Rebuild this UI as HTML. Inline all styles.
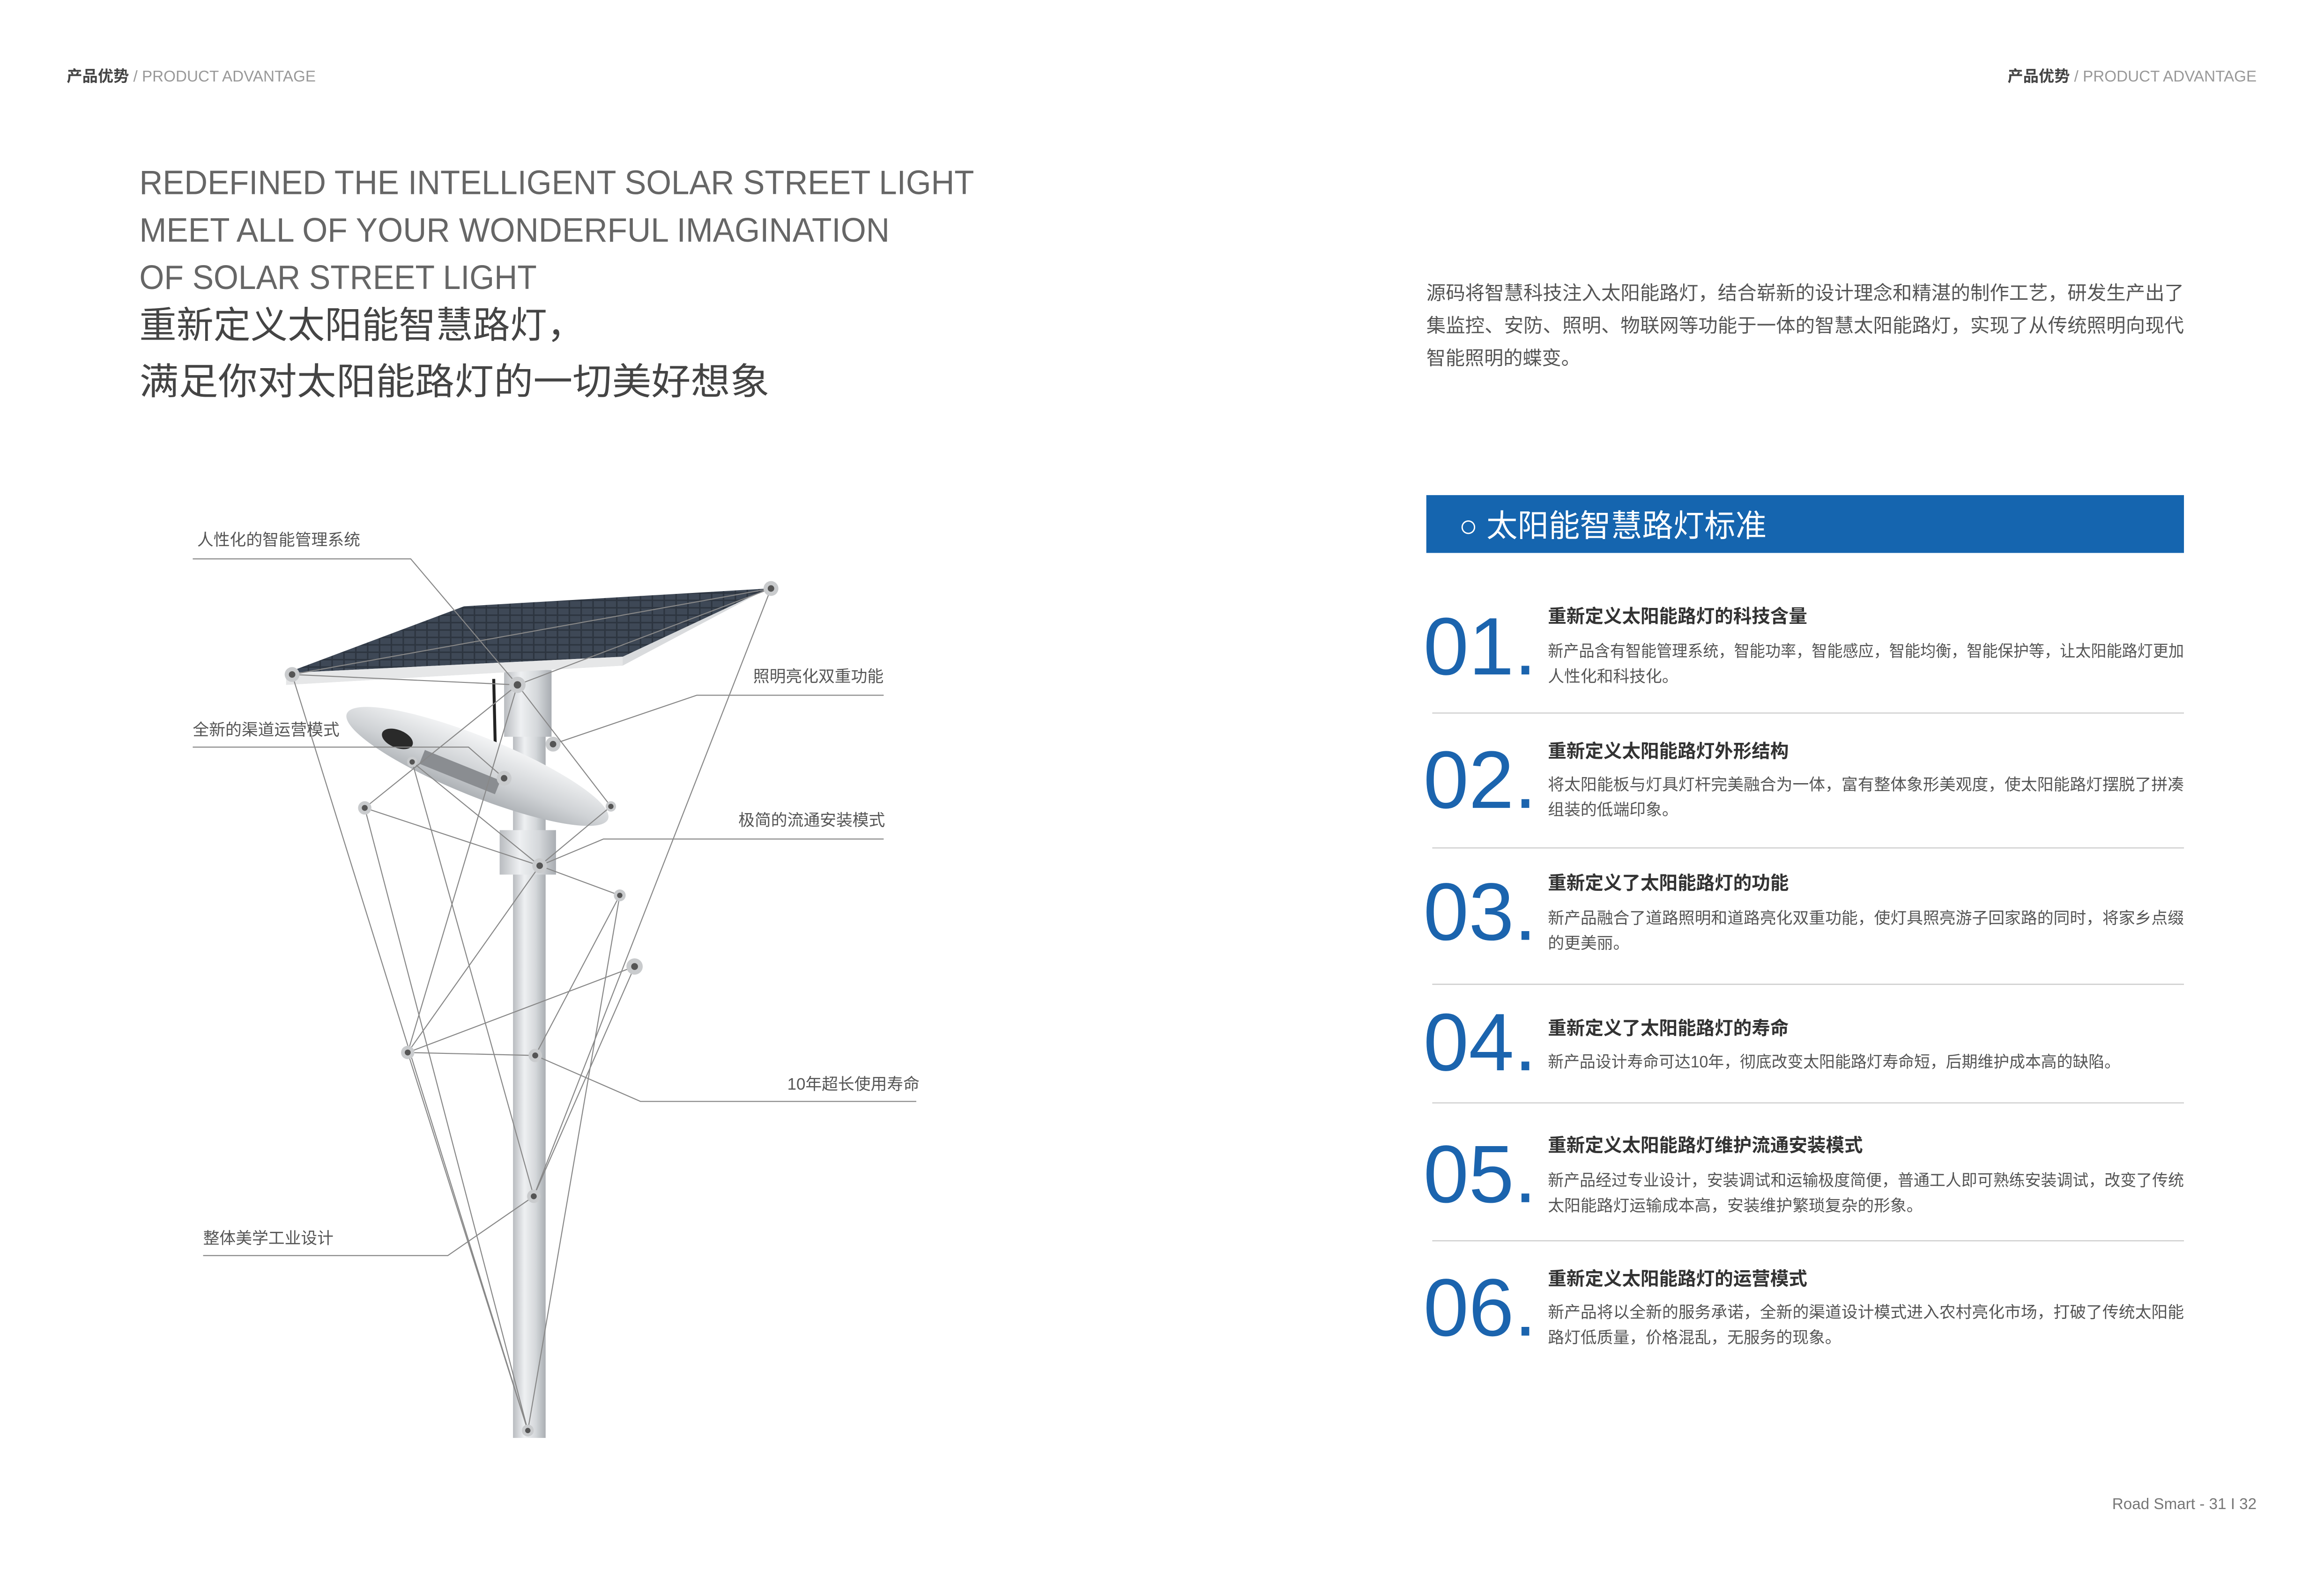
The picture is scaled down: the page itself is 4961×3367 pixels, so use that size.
<!DOCTYPE html>
<html><head><meta charset="utf-8"><style>
html,body{margin:0;padding:0;background:#fff;width:4961px;height:3367px;overflow:hidden}
svg{display:block}
text{font-family:"Liberation Sans","Noto Sans CJK SC",sans-serif}
</style></head><body>
<svg width="4961" height="3367" viewBox="0 0 4961 3367" xmlns="http://www.w3.org/2000/svg">
<defs>
<linearGradient id="pole" x1="0" x2="1" y1="0" y2="0">
<stop offset="0" stop-color="#b9bcc0"/><stop offset="0.35" stop-color="#eef0f2"/><stop offset="0.7" stop-color="#d4d7da"/><stop offset="1" stop-color="#a9adb2"/></linearGradient>
<linearGradient id="head" x1="0" x2="0" y1="0" y2="1">
<stop offset="0" stop-color="#f3f4f5"/><stop offset="0.6" stop-color="#cfd2d5"/><stop offset="1" stop-color="#aeb2b6"/></linearGradient>
<pattern id="cells" width="8" height="5" patternUnits="userSpaceOnUse"><rect width="8" height="5" fill="#2d3540"/><rect x="0.5" y="0.5" width="7" height="4" fill="#3e4856"/></pattern>
</defs>
<g transform="scale(3.165)">
<!-- headers -->
<text x="45" y="55" font-size="10.5" fill="#444" font-weight="bold">产品优势 <tspan font-weight="normal" fill="#999">/ PRODUCT ADVANTAGE</tspan></text>
<text x="1522" y="55" font-size="10.5" fill="#444" font-weight="bold" text-anchor="end">产品优势 <tspan font-weight="normal" fill="#999">/ PRODUCT ADVANTAGE</tspan></text>

<!-- title -->
<g fill="#666" font-size="23">
<text x="94" y="131" textLength="563" lengthAdjust="spacingAndGlyphs">REDEFINED THE INTELLIGENT SOLAR STREET LIGHT</text>
<text x="94" y="163" textLength="506" lengthAdjust="spacingAndGlyphs">MEET ALL OF YOUR WONDERFUL IMAGINATION</text>
<text x="94" y="195" textLength="268" lengthAdjust="spacingAndGlyphs">OF SOLAR STREET LIGHT</text>
</g>
<g fill="#444" font-size="25">
<text x="94" y="228">重新定义太阳能智慧路灯，</text>
<text x="94" y="266" textLength="425" lengthAdjust="spacingAndGlyphs">满足你对太阳能路灯的一切美好想象</text>
</g>

<!-- right paragraph -->
<g fill="#555" font-size="13">
<text x="962" y="202" textLength="511" lengthAdjust="spacingAndGlyphs">源码将智慧科技注入太阳能路灯，结合崭新的设计理念和精湛的制作工艺，研发生产出了</text>
<text x="962" y="224" textLength="511" lengthAdjust="spacingAndGlyphs">集监控、安防、照明、物联网等功能于一体的智慧太阳能路灯，实现了从传统照明向现代</text>
<text x="962" y="246">智能照明的蝶变。</text>
</g>

<!-- blue bar -->
<rect x="962" y="334" width="511" height="39" fill="#1565af"/>
<text x="984" y="362" font-size="21" fill="#fff">○ 太阳能智慧路灯标准</text>

<!-- items -->
<g fill="#1b64ae" font-size="55">
<text x="960" y="455">01.</text>
<text x="960" y="545">02.</text>
<text x="960" y="634">03.</text>
<text x="960" y="722">04.</text>
<text x="960" y="811">05.</text>
<text x="960" y="901">06.</text>
</g>
<g fill="#333" font-size="12.5" font-weight="bold">
<text x="1044" y="420">重新定义太阳能路灯的科技含量</text>
<text x="1044" y="511">重新定义太阳能路灯外形结构</text>
<text x="1044" y="600">重新定义了太阳能路灯的功能</text>
<text x="1044" y="698">重新定义了太阳能路灯的寿命</text>
<text x="1044" y="777">重新定义太阳能路灯维护流通安装模式</text>
<text x="1044" y="867">重新定义太阳能路灯的运营模式</text>
</g>
<g fill="#555" font-size="11">
<text x="1044" y="443" textLength="429" lengthAdjust="spacingAndGlyphs">新产品含有智能管理系统，智能功率，智能感应，智能均衡，智能保护等，让太阳能路灯更加</text>
<text x="1044" y="460">人性化和科技化。</text>
<text x="1044" y="533" textLength="429" lengthAdjust="spacingAndGlyphs">将太阳能板与灯具灯杆完美融合为一体，富有整体象形美观度，使太阳能路灯摆脱了拼凑</text>
<text x="1044" y="550">组装的低端印象。</text>
<text x="1044" y="623" textLength="429" lengthAdjust="spacingAndGlyphs">新产品融合了道路照明和道路亮化双重功能，使灯具照亮游子回家路的同时，将家乡点缀</text>
<text x="1044" y="640">的更美丽。</text>
<text x="1044" y="720" textLength="386" lengthAdjust="spacingAndGlyphs">新产品设计寿命可达10年，彻底改变太阳能路灯寿命短，后期维护成本高的缺陷。</text>
<text x="1044" y="800" textLength="429" lengthAdjust="spacingAndGlyphs">新产品经过专业设计，安装调试和运输极度简便，普通工人即可熟练安装调试，改变了传统</text>
<text x="1044" y="817">太阳能路灯运输成本高，安装维护繁琐复杂的形象。</text>
<text x="1044" y="889" textLength="429" lengthAdjust="spacingAndGlyphs">新产品将以全新的服务承诺，全新的渠道设计模式进入农村亮化市场，打破了传统太阳能</text>
<text x="1044" y="906">路灯低质量，价格混乱，无服务的现象。</text>
</g>
<g stroke="#cfcfcf" stroke-width="0.8">
<line x1="966" y1="481" x2="1473" y2="481"/>
<line x1="966" y1="572" x2="1473" y2="572"/>
<line x1="966" y1="664" x2="1473" y2="664"/>
<line x1="966" y1="744" x2="1473" y2="744"/>
<line x1="966" y1="837" x2="1473" y2="837"/>
</g>

<text x="1522" y="1018" font-size="10.5" fill="#777" text-anchor="end">Road Smart - 31 I 32</text>

<!-- lamp illustration -->
<rect x="346" y="455" width="22" height="515" fill="url(#pole)"/>
<rect x="340" y="452" width="32" height="45" fill="url(#pole)"/>
<rect x="337" y="560" width="38" height="30" fill="url(#pole)"/>
<line x1="333" y1="458" x2="334" y2="502" stroke="#222" stroke-width="2"/>
<!-- panel -->
<polygon points="193,454 420,443 518,397 420,449 193,462" fill="#d9dbdd"/>
<polygon points="193,454 313,409 518,397 420,443" fill="url(#cells)"/>
<polygon points="193,454 420,443 420,449 193,462" fill="#e6e7e8"/>
<!-- lamp head -->
<g transform="rotate(22 322 517)">
<ellipse cx="322" cy="517" rx="95" ry="20" fill="url(#head)"/>
<ellipse cx="265" cy="520" rx="11" ry="6" fill="#2a2a2a"/>
<rect x="285" y="520" width="55" height="10" fill="#8a8d91"/>
</g>

<!-- connector lines -->
<g stroke="#888" stroke-width="0.7" fill="none">
<polyline points="130,377 277,377 349,462"/>
<polyline points="596,469 470,469 373,502"/>
<polyline points="130,504 316,504 340,525"/>
<polyline points="596,566 407,566 364,584"/>
<polyline points="618,743 432,743 361,712"/>
<polyline points="137,847 302,847 360,807"/>
<line x1="197" y1="455" x2="520" y2="397"/>
<line x1="197" y1="455" x2="349" y2="462"/>
<line x1="349" y1="462" x2="520" y2="397"/>
<line x1="197" y1="455" x2="356" y2="965"/>
<line x1="520" y1="397" x2="360" y2="807"/>
<line x1="349" y1="462" x2="246" y2="545"/>
<line x1="349" y1="462" x2="412" y2="544"/>
<line x1="246" y1="545" x2="364" y2="584"/>
<line x1="246" y1="545" x2="356" y2="965"/>
<line x1="278" y1="514" x2="364" y2="584"/>
<line x1="278" y1="514" x2="360" y2="807"/>
<line x1="412" y1="544" x2="364" y2="584"/>
<line x1="364" y1="584" x2="418" y2="604"/>
<line x1="364" y1="584" x2="275" y2="710"/>
<line x1="349" y1="462" x2="275" y2="710"/>
<line x1="275" y1="710" x2="428" y2="652"/>
<line x1="275" y1="710" x2="361" y2="712"/>
<line x1="418" y1="604" x2="361" y2="712"/>
<line x1="418" y1="604" x2="356" y2="965"/>
<line x1="428" y1="652" x2="360" y2="807"/>
<line x1="275" y1="710" x2="356" y2="965"/>
</g>
<g fill="#c9cbcd">
<circle cx="197" cy="455" r="5"/><circle cx="520" cy="397" r="5"/><circle cx="349" cy="462" r="5.5"/>
<circle cx="373" cy="502" r="5"/><circle cx="340" cy="525" r="5"/><circle cx="278" cy="514" r="3.5"/>
<circle cx="246" cy="545" r="4.5"/><circle cx="412" cy="544" r="3.5"/><circle cx="364" cy="584" r="5"/>
<circle cx="418" cy="604" r="4"/><circle cx="428" cy="652" r="5.5"/><circle cx="275" cy="710" r="4.5"/>
<circle cx="361" cy="712" r="4.5"/><circle cx="360" cy="807" r="4.5"/><circle cx="356" cy="965" r="4"/>
</g>
<g fill="#555">
<circle cx="197" cy="455" r="2.2"/><circle cx="520" cy="397" r="2.2"/><circle cx="349" cy="462" r="2.5"/>
<circle cx="373" cy="502" r="2.2"/><circle cx="340" cy="525" r="2.2"/><circle cx="278" cy="514" r="1.8"/>
<circle cx="246" cy="545" r="2"/><circle cx="412" cy="544" r="1.8"/><circle cx="364" cy="584" r="2.2"/>
<circle cx="418" cy="604" r="1.8"/><circle cx="428" cy="652" r="2.3"/><circle cx="275" cy="710" r="2"/>
<circle cx="361" cy="712" r="2"/><circle cx="360" cy="807" r="2"/><circle cx="356" cy="965" r="1.8"/>
</g>
<g fill="#555" font-size="11">
<text x="133" y="368">人性化的智能管理系统</text>
<text x="508" y="460">照明亮化双重功能</text>
<text x="130" y="496">全新的渠道运营模式</text>
<text x="498" y="557">极简的流通安装模式</text>
<text x="531" y="735">10年超长使用寿命</text>
<text x="137" y="839">整体美学工业设计</text>
</g>
</g>
</svg>
</body></html>
